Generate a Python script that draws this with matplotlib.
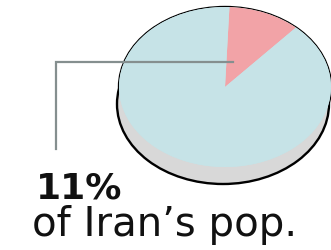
import matplotlib
matplotlib.use('Agg')
import matplotlib.pyplot as plt
from matplotlib.patches import Ellipse

# data
labels = ['Iran pop. share', 'rest']
shares = [11, 89]
colors = ['#f2a3a7', '#c6e3e7']
big_label = '11%'
sub_label = 'of Iran\u2019s pop.'

W, H = 331, 251
fig = plt.figure(figsize=(W / 100, H / 100), dpi=100)
fig.patch.set_facecolor('white')

# pie geometry in pixels (top face)
cx, cy, a, b = 225, 88, 106, 80
depth = 17

# background axes: the pie "thickness"
bg = fig.add_axes([0, 0, 1, 1])
bg.set_xlim(0, W)
bg.set_ylim(H, 0)
bg.axis('off')
bg.add_patch(Ellipse((cx, cy), 2 * a, 2 * b, facecolor='none', edgecolor='black', lw=1.7, zorder=1))
bg.add_patch(Ellipse((cx - 2, cy + depth), 2 * a, 2 * b, facecolor='#d8d8d8', edgecolor='black', lw=1.7, zorder=2))
bg.add_patch(Ellipse((cx, cy), 2 * a, 2 * b, facecolor=colors[1], edgecolor='none', zorder=3))

# top face: pie squashed into an ellipse
pax = fig.add_axes([(cx - a) / W, (H - (cy + b)) / H, 2 * a / W, 2 * b / H])
pax.pie(shares, colors=colors, startangle=48, counterclock=True,
        wedgeprops=dict(linewidth=0))
pax.set_aspect('auto')
pax.set_xlim(-1, 1)
pax.set_ylim(-1, 1)
pax.axis('off')
pax.patch.set_alpha(0)

# overlay: leader line and text
top = fig.add_axes([0, 0, 1, 1])
top.set_xlim(0, W)
top.set_ylim(H, 0)
top.axis('off')
top.patch.set_alpha(0)
top.plot([233, 56, 56], [63, 63, 150], color='#858f8f', lw=1.6, solid_joinstyle='miter')

top.text(36, 199, big_label, fontsize=26, fontweight='bold', color='#111111',
         family='DejaVu Sans', ha='left', va='baseline')
top.text(32, 236, sub_label, fontsize=29, color='#111111',
         family='DejaVu Sans', ha='left', va='baseline')

fig.savefig('out.png', dpi=100)
